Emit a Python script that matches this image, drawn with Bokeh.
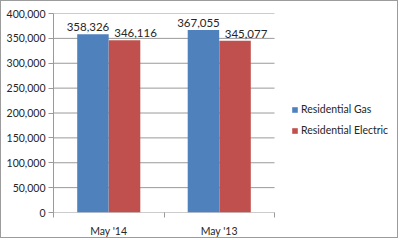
from bokeh.plotting import figure
from bokeh.models import (ColumnDataSource, FixedTicker, NumeralTickFormatter, Legend,
                          LegendItem, Range1d, LabelSet)
from bokeh.core.properties import value
from bokeh.embed import file_html
from bokeh.resources import INLINE

categories = ["May '14", "May '13"]
gas = [358326, 367055]
electric = [346116, 345077]
series_names = ["Residential Gas", "Residential Electric"]
y_ticks = [0, 50000, 100000, 150000, 200000, 250000, 300000, 350000, 400000]

BLUE = "#4F81BD"
RED = "#C0504D"
FONT = "Lato"
TXT = "#262626"
GRID = "#9a9a9a"

n = len(categories)
centers = [i + 0.5 for i in range(n)]
off = 0.143
bw = 0.285

# layout in pixels
W, H = 398, 238
LEFT, RIGHT_PAD, TOP, BOTTOM = 52, 3, 12, 26
FRAME_L = 1 + LEFT
FRAME_R = 1 + W - RIGHT_PAD
PLOT_R = 274  # where the category area ends
x_end = n * (FRAME_R - FRAME_L) / (PLOT_R - FRAME_L)

src_g = ColumnDataSource(dict(x=[c - off for c in centers], top=gas,
                              lbl=[f"{v:,}" for v in gas]))
src_e = ColumnDataSource(dict(x=[c + off for c in centers], top=electric,
                              lbl=[f"{v:,}" for v in electric]))

p = figure(width=W, height=H, output_backend="svg", toolbar_location=None,
           title_location=None,
           x_range=Range1d(0, x_end), y_range=Range1d(0, 400000),
           min_border_left=LEFT, min_border_right=RIGHT_PAD, min_border_top=TOP,
           min_border_bottom=BOTTOM,
           background_fill_color="white", border_fill_color="white",
           styles={"border": "1px solid #9c9c9c"})
p.outline_line_color = None

# gridlines limited to the category area
p.segment(x0=[0] * len(y_ticks), x1=[n] * len(y_ticks), y0=y_ticks, y1=y_ticks,
          line_color=GRID, line_width=1)

rg = p.vbar(x="x", top="top", width=bw, source=src_g, fill_color=BLUE, line_color=None)
re = p.vbar(x="x", top="top", width=bw, source=src_e, fill_color=RED, line_color=None)

for s, xo in ((src_g, -5), (src_e, 11)):
    p.add_layout(LabelSet(x="x", y="top", text="lbl", source=s, text_align="center",
                          text_baseline="bottom", y_offset=3, x_offset=xo,
                          text_font=value(FONT), text_font_size="11.5px",
                          text_color=TXT))

# y axis
p.yaxis.ticker = FixedTicker(ticks=y_ticks)
p.yaxis.formatter = NumeralTickFormatter(format="0,0")
p.yaxis.major_label_text_font = FONT
p.yaxis.major_label_text_font_size = "10.5px"
p.yaxis.major_label_text_color = TXT
p.yaxis.axis_line_color = GRID
p.yaxis.major_tick_line_color = GRID
p.yaxis.major_tick_in = 0
p.yaxis.major_tick_out = 5
p.yaxis.minor_tick_line_color = None
p.yaxis.major_label_standoff = 3

# x axis (line drawn only across category area)
p.xaxis.ticker = FixedTicker(ticks=centers, minor_ticks=list(range(n + 1)))
p.xaxis.major_label_overrides = {c: lab for c, lab in zip(centers, categories)}
p.xaxis.major_label_text_font = FONT
p.xaxis.major_label_text_font_size = "10.5px"
p.xaxis.major_label_text_color = TXT
p.xaxis.axis_line_color = None
p.xaxis.major_tick_line_color = None
p.xaxis.minor_tick_line_color = GRID
p.xaxis.minor_tick_in = 0
p.xaxis.minor_tick_out = 5
p.xaxis.major_label_standoff = 6

p.xgrid.grid_line_color = None
p.ygrid.grid_line_color = None

legend = Legend(items=[LegendItem(label=series_names[0], renderers=[rg]),
                       LegendItem(label=series_names[1], renderers=[re])],
                location=(PLOT_R + 17 - FRAME_L, 72), border_line_color=None,
                background_fill_alpha=0,
                padding=0, margin=0, spacing=1, glyph_width=7, glyph_height=7,
                label_height=20, label_standoff=3, label_text_font=FONT,
                label_text_font_size="10.5px", label_text_color=TXT)
p.add_layout(legend, "center")

open("out.html", "w").write(file_html(p, INLINE))
